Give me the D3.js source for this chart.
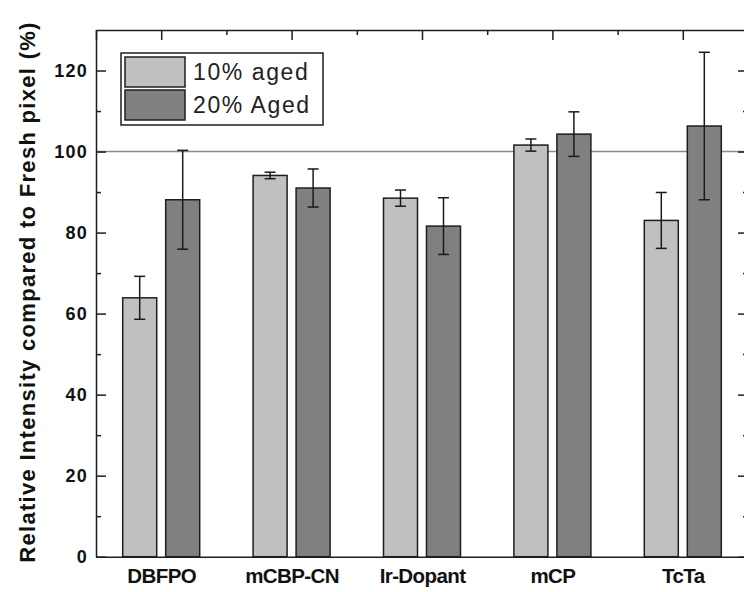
<!DOCTYPE html>
<html>
<head>
<meta charset="utf-8">
<script src="https://cdn.jsdelivr.net/npm/d3@7"></script>
<style>
  body { margin: 0; background: #fff; }
  svg { display: block; }
  .tick text { font-family: "Liberation Sans", Arial, sans-serif; font-weight: bold; }
</style>
</head>
<body>
<svg id="chart" width="744" height="592"></svg>
<script>
// data
var categories = ["DBFPO", "mCBP-CN", "Ir-Dopant", "mCP", "TcTa"];
var seriesNames = ["10% aged", "20% Aged"];
var aged10 = [63.9, 94.1, 88.5, 101.6, 83.0];
var aged10Err = [5.3, 0.8, 2.0, 1.5, 6.9];
var aged20 = [88.1, 91.0, 81.6, 104.3, 106.3];
var aged20Err = [12.2, 4.7, 7.0, 5.5, 18.2];
var yTicks = [0, 20, 40, 60, 80, 100, 120];

var colors = ["#c0c0c0", "#808080"];
var svg = d3.select("#chart");

var mLeft = 96, mRight = 748, mTop = 30, mBottom = 556.7;

var x = d3.scaleLinear().domain([0.5, categories.length + 0.5]).range([mLeft, mRight]);
var y = d3.scaleLinear().domain([0, 130]).range([mBottom, mTop]);

var barW = 34, gap = 9;

// reference line at 100 %
svg.append("line")
    .attr("x1", mLeft).attr("x2", mRight)
    .attr("y1", y(100)).attr("y2", y(100))
    .attr("stroke", "#8a8a8a").attr("stroke-width", 1.5);

// bars
var series = [
  { vals: aged10, errs: aged10Err, off: -(barW + gap) / 2 },
  { vals: aged20, errs: aged20Err, off: (barW + gap) / 2 }
];

series.forEach(function(s, si) {
  var g = svg.append("g");
  var data = categories.map(function(c, i) { return { i: i, v: s.vals[i], e: s.errs[i] }; });

  g.selectAll("rect")
    .data(data)
    .enter().append("rect")
      .attr("x", function(d) { return x(d.i + 1) + s.off - barW / 2; })
      .attr("y", function(d) { return y(d.v); })
      .attr("width", barW)
      .attr("height", function(d) { return y(0) - y(d.v); })
      .attr("fill", colors[si])
      .attr("stroke", "#1e1e1e")
      .attr("stroke-width", 1.5);

  // error bars
  var eb = g.selectAll(".err")
    .data(data)
    .enter().append("g")
      .attr("class", "err")
      .attr("stroke", "#1a1a1a")
      .attr("stroke-width", 1.5);
  eb.append("line")
    .attr("x1", function(d) { return x(d.i + 1) + s.off; })
    .attr("x2", function(d) { return x(d.i + 1) + s.off; })
    .attr("y1", function(d) { return y(d.v + d.e); })
    .attr("y2", function(d) { return y(d.v - d.e); });
  [1, -1].forEach(function(sign) {
    eb.append("line")
      .attr("x1", function(d) { return x(d.i + 1) + s.off - 5.5; })
      .attr("x2", function(d) { return x(d.i + 1) + s.off + 5.5; })
      .attr("y1", function(d) { return y(d.v + sign * d.e); })
      .attr("y2", function(d) { return y(d.v + sign * d.e); });
  });
});

// axes
var minorY = d3.range(10, 130, 20);
function styleAxis(g) {
  g.select(".domain").attr("stroke", "#1e1e1e").attr("stroke-width", 1.5);
  g.selectAll(".tick line").attr("stroke", "#1e1e1e").attr("stroke-width", 1.5);
}

var yAxis = svg.append("g")
    .attr("transform", "translate(" + mLeft + ",0)")
    .call(d3.axisLeft(y).tickValues(yTicks).tickSizeInner(-10).tickSizeOuter(0).tickPadding(8))
    .call(styleAxis);
yAxis.selectAll(".tick text")
    .attr("font-size", 18)
    .attr("letter-spacing", 1.2)
    .attr("fill", "#111");

svg.append("g")
    .attr("transform", "translate(" + mLeft + ",0)")
    .call(d3.axisLeft(y).tickValues(minorY).tickSize(-5).tickFormat(""))
    .call(styleAxis)
    .select(".domain").remove();

svg.append("g")
    .attr("transform", "translate(" + mRight + ",0)")
    .call(d3.axisRight(y).tickValues(yTicks).tickSizeInner(-10).tickSizeOuter(0).tickFormat(""))
    .call(styleAxis);
svg.append("g")
    .attr("transform", "translate(" + mRight + ",0)")
    .call(d3.axisRight(y).tickValues(minorY).tickSize(-5).tickFormat(""))
    .call(styleAxis)
    .select(".domain").remove();

var xAxis = svg.append("g")
    .attr("transform", "translate(0," + mBottom + ")")
    .call(d3.axisBottom(x).tickValues(d3.range(1, categories.length + 1)).tickSize(0).tickPadding(12)
      .tickFormat(function(d) { return categories[d - 1]; }))
    .call(styleAxis);
xAxis.selectAll(".tick text")
    .attr("font-size", 20.5)
    .attr("letter-spacing", -0.6)
    .attr("fill", "#111");

svg.append("g")
    .attr("transform", "translate(0," + mTop + ")")
    .call(d3.axisTop(x).tickValues(d3.range(1, categories.length + 1)).tickSize(-10).tickFormat(""))
    .call(styleAxis);
svg.append("g")
    .attr("transform", "translate(0," + mTop + ")")
    .call(d3.axisTop(x).tickValues(d3.range(1.5, categories.length, 1)).tickSize(-5).tickFormat(""))
    .call(styleAxis)
    .select(".domain").remove();

// y axis title
svg.append("text")
    .attr("transform", "translate(35,292) rotate(-90)")
    .attr("text-anchor", "middle")
    .attr("font-family", "Liberation Sans, Arial, sans-serif")
    .attr("font-size", 22)
    .attr("font-weight", "bold")
    .attr("letter-spacing", 1.3)
    .attr("fill", "#111")
    .text("Relative Intensity compared to Fresh pixel (%)");

// legend
var lg = svg.append("g").attr("transform", "translate(121,53)");
lg.append("rect")
    .attr("width", 202).attr("height", 72)
    .attr("fill", "#fff").attr("stroke", "#1e1e1e").attr("stroke-width", 1.5);
seriesNames.forEach(function(name, i) {
  lg.append("rect")
    .attr("x", 4).attr("y", 4 + i * 33)
    .attr("width", 60).attr("height", 30)
    .attr("fill", colors[i]).attr("stroke", "#1e1e1e").attr("stroke-width", 1.5);
  lg.append("text")
    .attr("x", 72).attr("y", 19 + i * 33)
    .attr("dy", "0.35em")
    .attr("font-family", "Liberation Sans, Arial, sans-serif")
    .attr("font-size", 23)
    .attr("letter-spacing", 1.6)
    .attr("fill", "#222")
    .text(name);
});
</script>
</body>
</html>
